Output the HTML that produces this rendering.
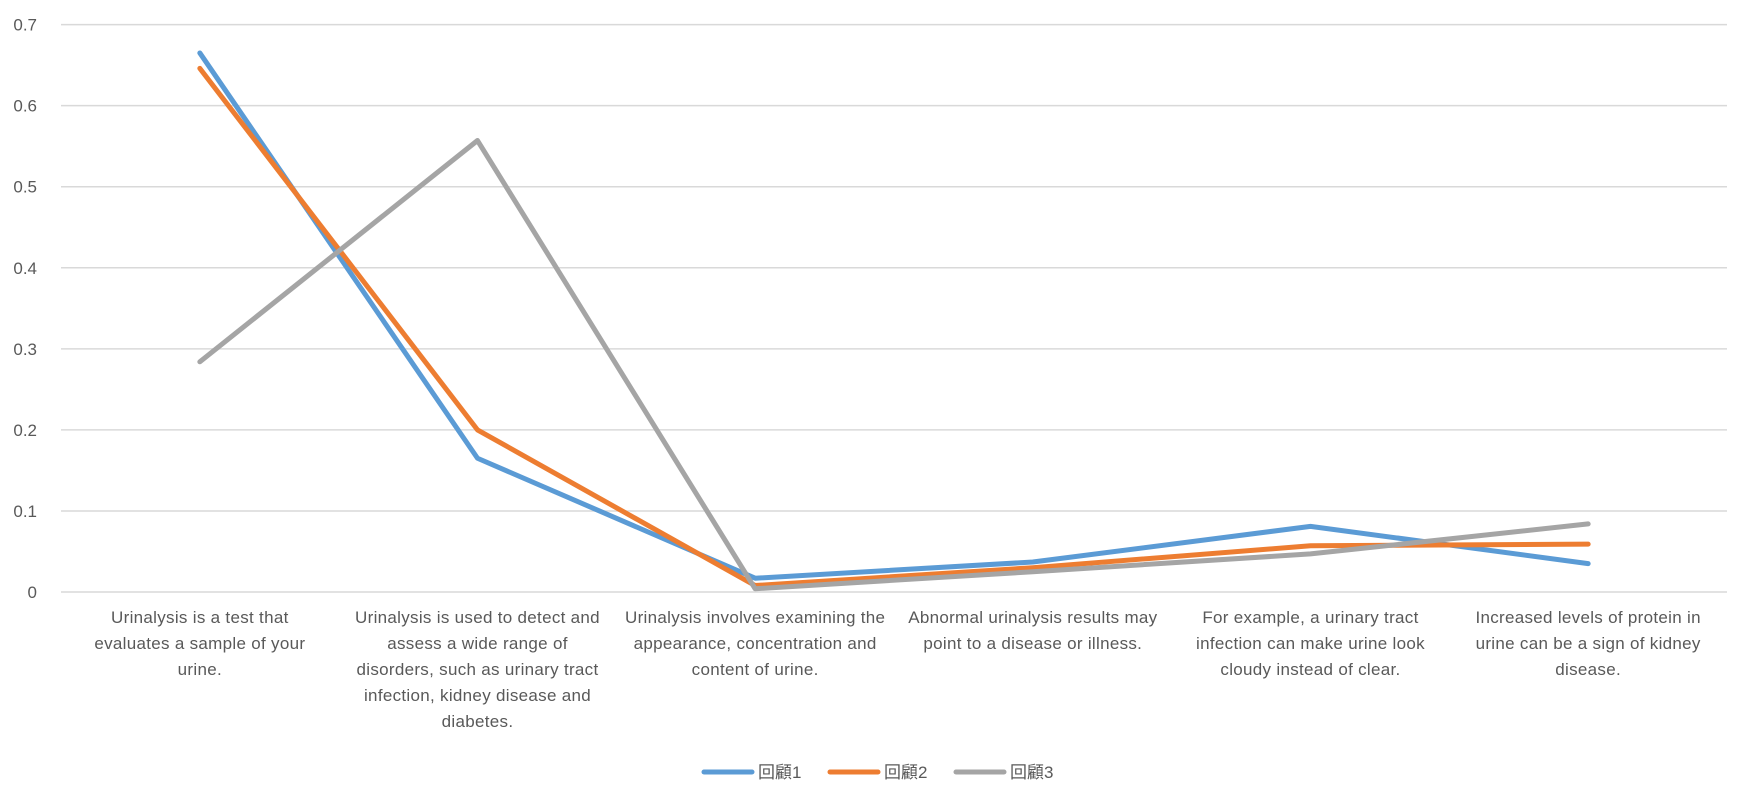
<!DOCTYPE html>
<html><head><meta charset="utf-8"><style>
body{margin:0;background:#fff;width:1750px;height:800px;overflow:hidden;font-family:"Liberation Sans","Noto Sans CJK TC",sans-serif;}
.cat{position:absolute;width:280px;text-align:center;font-size:17px;letter-spacing:0.3px;line-height:26px;color:#595959;white-space:pre-line;}
</style></head><body>
<svg id="chart" width="1750" height="800" style="position:absolute;left:0;top:0"></svg>
<div id="cats"></div>
<script>
const categories=["Urinalysis is a test that\nevaluates a sample of your\nurine.","Urinalysis is used to detect and\nassess a wide range of\ndisorders, such as urinary tract\ninfection, kidney disease and\ndiabetes.","Urinalysis involves examining the\nappearance, concentration and\ncontent of urine.","Abnormal urinalysis results may\npoint to a disease or illness.","For example, a urinary tract\ninfection can make urine look\ncloudy instead of clear.","Increased levels of protein in\nurine can be a sign of kidney\ndisease."];
const series1=[0.665,0.165,0.017,0.037,0.081,0.035];
const series2=[0.646,0.200,0.008,0.030,0.057,0.059];
const series3=[0.284,0.557,0.004,0.025,0.047,0.084];
const seriesNames=["回顧1","回顧2","回顧3"];
const yTicks=[0,0.1,0.2,0.3,0.4,0.5,0.6,0.7];
const colors=["#5b9bd5","#ed7d31","#a5a5a5"];
const L=61,R=1727,Y0=592,Y7=24.6;
const NS="http://www.w3.org/2000/svg";
const svg=document.getElementById('chart');
const y=v=>Y0-(v/0.7)*(Y0-Y7);
const x=i=>L+(R-L)/categories.length*(i+0.5);
function mk(t,a){const e=document.createElementNS(NS,t);for(const k in a)e.setAttribute(k,a[k]);svg.appendChild(e);return e;}
yTicks.forEach(v=>{
  const g=mk('line',{x1:L,x2:R,y1:y(v),y2:y(v),stroke:'#d9d9d9','stroke-width':1.5});
  
  
  const t=mk('text',{x:37,y:y(v)+6,'text-anchor':'end','font-size':17,fill:'#595959','font-family':'Liberation Sans, sans-serif'});
  t.textContent=v===0?'0':String(v);
  
  
});
[series1,series2,series3].forEach((s,k)=>{
  const p=mk('polyline',{points:s.map((v,i)=>x(i)+','+y(v)).join(' '),fill:'none',stroke:colors[k],'stroke-width':5,'stroke-linecap':'round','stroke-linejoin':'round'});
  
  
});
const cd=document.getElementById('cats');
categories.forEach((c,i)=>{
  const d=document.createElement('div');
  d.className='cat';d.style.left=(x(i)-140)+'px';d.style.top='605px';d.textContent=c;
  
  
  cd.appendChild(d);
});
let lx=704;
seriesNames.forEach((n,k)=>{
  const l=mk('line',{x1:lx,x2:lx+48,y1:772,y2:772,stroke:colors[k],'stroke-width':5,'stroke-linecap':'round'});
  
  
  const t=mk('text',{x:lx+54,y:778,'font-size':17,fill:'#595959','font-family':'Liberation Sans, Noto Sans CJK TC, sans-serif'});
  t.textContent=n;
  
  
  lx+=126;
});
</script>
</body></html>
